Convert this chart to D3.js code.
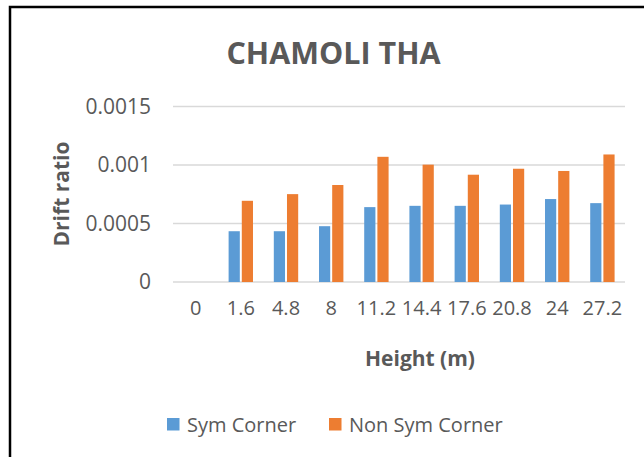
<!DOCTYPE html>
<html>
<head>
<meta charset="utf-8">
<script src="https://cdn.jsdelivr.net/npm/d3@7"></script>
<style>
  body { margin: 0; background: #fff; }
  text { font-family: "Open Sans", sans-serif; fill: #595959; }
</style>
</head>
<body>
<div class="canvas"></div>
<script>
// data
const heights = ['0', '1.6', '4.8', '8', '11.2', '14.4', '17.6', '20.8', '24', '27.2'];
const symCorner = [0, 0.000434, 0.000434, 0.000477, 0.00064, 0.000651, 0.000651, 0.000662, 0.000709, 0.000674];
const nonSymCorner = [0, 0.000694, 0.000751, 0.000829, 0.00107, 0.001003, 0.000917, 0.000968, 0.000949, 0.00109];
const seriesNames = ['Sym Corner', 'Non Sym Corner'];
const seriesColors = ['#5B9BD5', '#ED7D31'];
const yTicks = [0, 0.0005, 0.001, 0.0015];

const svg = d3.select('.canvas')
  .append('svg')
  .attr('width', 644)
  .attr('height', 457);

svg.append('rect')
  .attr('width', 644)
  .attr('height', 457)
  .attr('fill', '#fff');

// frame (only top + left edge visible in the crop)
svg.append('path')
  .attr('d', 'M10,457 V7 H644')
  .attr('fill', 'none')
  .attr('stroke', '#000')
  .attr('stroke-width', 2.5);

//plot area
const plot = { left: 173, right: 625, top: 106.5, bottom: 282 };

const x = d3.scaleBand()
  .domain(heights)
  .range([plot.left, plot.right]);

const x1 = d3.scaleBand()
  .domain(seriesNames)
  .range([0, x.bandwidth()])
  .paddingInner(0.15)
  .paddingOuter(0.79);

const y = d3.scaleLinear()
  .domain([0, 0.0015])
  .range([plot.bottom, plot.top]);

// gridlines
svg.append('g')
  .selectAll('line')
  .data(yTicks)
  .join('line')
  .attr('x1', plot.left)
  .attr('x2', plot.right)
  .attr('y1', d => y(d))
  .attr('y2', d => y(d))
  .attr('stroke', '#D9D9D9')
  .attr('stroke-width', 1.3);

// y axis labels
const yAxis = d3.axisLeft(y)
  .tickValues(yTicks)
  .tickFormat(d => d === 0 ? '0' : String(+d.toFixed(4)))
  .tickSize(0)
  .tickPadding(22);

const yAxisGroup = svg.append('g')
  .attr('transform', `translate(${plot.left}, 0)`)
  .call(yAxis);
yAxisGroup.select('.domain').remove();
yAxisGroup.selectAll('text')
  .attr('font-size', 21)
  .attr('font-family', '"Open Sans", sans-serif')
  .attr('fill', '#595959');

// x axis labels
const xAxis = d3.axisBottom(x)
  .tickSize(0)
  .tickPadding(19);

const xAxisGroup = svg.append('g')
  .attr('transform', `translate(0, ${plot.bottom})`)
  .call(xAxis);
xAxisGroup.select('.domain').remove();
xAxisGroup.selectAll('text')
  .attr('font-size', 20)
  .attr('font-family', '"Open Sans", sans-serif')
  .attr('fill', '#595959');

// bars
const rows = heights.map((h, i) => ({ h, values: [symCorner[i], nonSymCorner[i]] }));

const groups = svg.append('g')
  .selectAll('g')
  .data(rows)
  .join('g')
  .attr('transform', d => `translate(${x(d.h)}, 0)`);

groups.selectAll('rect')
  .data(d => d.values.map((v, j) => ({ name: seriesNames[j], v, c: seriesColors[j] })))
  .join('rect')
  .attr('x', d => x1(d.name))
  .attr('width', x1.bandwidth())
  .attr('y', d => y(d.v))
  .attr('height', d => y(0) - y(d.v))
  .attr('fill', d => d.c);

// title
svg.append('text')
  .attr('x', 333.5)
  .attr('y', 64)
  .attr('text-anchor', 'middle')
  .attr('font-size', 30.5)
  .attr('font-weight', 'bold')
  .text('CHAMOLI THA');

// axis titles
svg.append('text')
  .attr('transform', 'translate(69, 194) rotate(-90)')
  .attr('text-anchor', 'middle')
  .attr('font-size', 21)
  .attr('font-weight', 'bold')
  .text('Drift ratio');

svg.append('text')
  .attr('x', 420)
  .attr('y', 366)
  .attr('text-anchor', 'middle')
  .attr('font-size', 21)
  .attr('font-weight', 'bold')
  .text('Height (m)');

// legend
const legendX = [167, 329];
const legend = svg.append('g')
  .selectAll('g')
  .data(seriesNames)
  .join('g')
  .attr('transform', (d, i) => `translate(${legendX[i]}, 418)`);

legend.append('rect')
  .attr('width', 12.5)
  .attr('height', 12.5)
  .attr('fill', (d, i) => seriesColors[i]);

legend.append('text')
  .attr('x', 20)
  .attr('y', 13.5)
  .attr('font-size', 20)
  .text(d => d);
</script>
</body>
</html>
